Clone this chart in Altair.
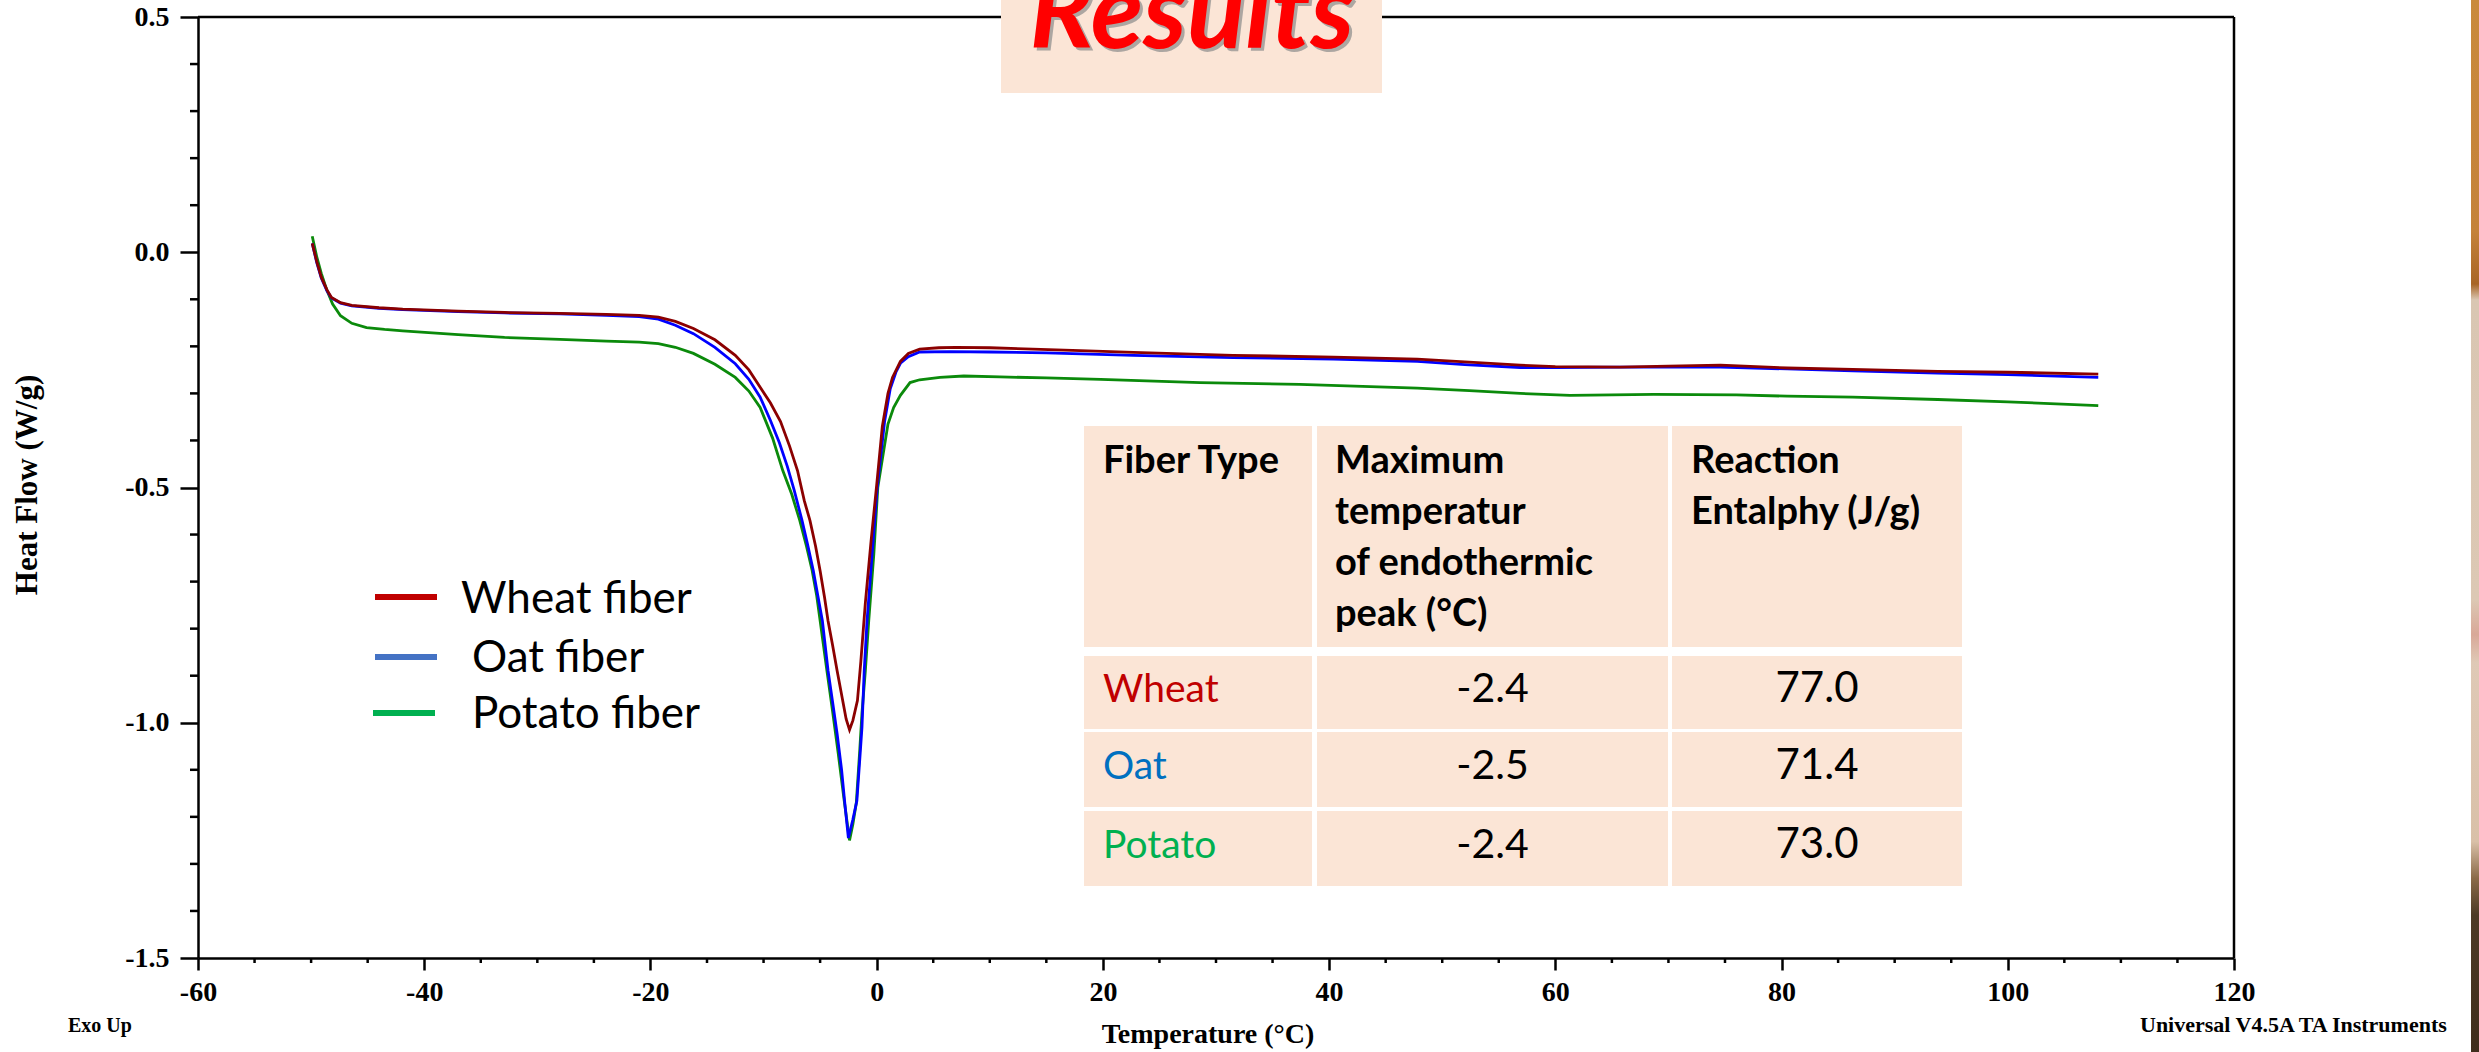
import altair as alt
import pandas as pd

# ---------------------------------------------------------------------------
# DSC heat-flow curves: (temperature in °C, heat flow in W/g)
# ---------------------------------------------------------------------------
WHEAT_CURVE = [
    (-49.9, 0.019), (-49.5, -0.020), (-49.1, -0.053), (-48.6, -0.080), (-48.2, -0.096),
    (-47.4, -0.107), (-46.4, -0.113), (-44.0, -0.118), (-41.9, -0.121), (-37.0, -0.125),
    (-32.9, -0.128), (-28.0, -0.130), (-23.9, -0.132), (-21.0, -0.134), (-19.3, -0.138),
    (-17.8, -0.147), (-16.2, -0.162), (-14.3, -0.186), (-12.5, -0.219), (-11.3, -0.250),
    (-10.3, -0.287), (-9.4, -0.320), (-8.5, -0.360), (-7.7, -0.412), (-7.0, -0.464),
    (-6.4, -0.528), (-5.9, -0.570), (-5.4, -0.625), (-5.0, -0.677), (-4.6, -0.735),
    (-4.3, -0.783), (-3.9, -0.835), (-3.5, -0.889), (-3.0, -0.953), (-2.7, -0.992),
    (-2.4, -1.015), (-2.1, -0.995), (-1.7, -0.953), (-1.4, -0.870), (-1.0, -0.745),
    (-0.5, -0.615), (0.0, -0.495), (0.5, -0.370), (1.0, -0.300), (1.4, -0.266),
    (2.1, -0.232), (2.8, -0.215), (3.8, -0.206), (5.5, -0.203), (7.0, -0.202),
    (10.0, -0.203), (13.8, -0.206), (18.0, -0.209), (22.7, -0.213), (31.5, -0.219),
    (40.4, -0.223), (47.8, -0.227), (52.0, -0.233), (56.9, -0.240), (60.0, -0.243),
    (65.7, -0.244), (70.0, -0.242), (74.6, -0.240), (80.5, -0.246), (86.3, -0.249),
    (93.8, -0.253), (100.0, -0.255), (108.0, -0.259),
]

OAT_CURVE = [
    (-49.9, 0.019), (-49.5, -0.022), (-49.1, -0.055), (-48.6, -0.082), (-48.2, -0.097),
    (-47.4, -0.108), (-46.4, -0.114), (-44.0, -0.119), (-41.9, -0.122), (-37.0, -0.126),
    (-32.9, -0.129), (-28.0, -0.131), (-23.9, -0.134), (-21.0, -0.137), (-19.3, -0.142),
    (-17.8, -0.155), (-16.2, -0.173), (-14.3, -0.202), (-12.5, -0.237), (-11.3, -0.270),
    (-10.3, -0.308), (-9.4, -0.357), (-8.6, -0.405), (-7.9, -0.455), (-7.3, -0.505),
    (-6.6, -0.570), (-6.1, -0.622), (-5.6, -0.677), (-5.2, -0.730), (-4.8, -0.783),
    (-4.3, -0.889), (-3.9, -0.955), (-3.5, -1.023), (-3.1, -1.100), (-2.8, -1.175),
    (-2.5, -1.245), (-2.1, -1.205), (-1.75, -1.166), (-1.5, -1.080), (-1.3, -1.010),
    (-1.1, -0.889), (-0.85, -0.783), (-0.4, -0.641), (0.05, -0.500), (0.7, -0.360),
    (1.2, -0.290), (1.7, -0.255), (2.1, -0.236), (2.8, -0.222), (3.8, -0.212),
    (6.5, -0.211), (10.0, -0.212), (15.0, -0.214), (22.7, -0.219), (31.5, -0.224),
    (40.4, -0.227), (47.8, -0.232), (52.0, -0.239), (56.9, -0.245), (60.0, -0.245),
    (65.7, -0.244), (74.6, -0.244), (80.5, -0.248), (86.3, -0.252), (93.8, -0.257),
    (100.0, -0.260), (108.0, -0.266),
]

POTATO_CURVE = [
    (-49.9, 0.034), (-49.5, -0.010), (-49.1, -0.045), (-48.6, -0.081), (-48.1, -0.110),
    (-47.4, -0.135), (-46.4, -0.151), (-45.1, -0.160), (-43.5, -0.164), (-41.9, -0.167),
    (-37.0, -0.175), (-32.9, -0.181), (-28.0, -0.185), (-23.9, -0.189), (-21.0, -0.191),
    (-19.3, -0.194), (-17.8, -0.202), (-16.2, -0.215), (-14.3, -0.238), (-12.5, -0.266),
    (-11.3, -0.295), (-10.3, -0.330), (-9.2, -0.395), (-8.3, -0.464), (-7.5, -0.515),
    (-6.8, -0.570), (-6.2, -0.625), (-5.7, -0.677), (-5.3, -0.730), (-5.0, -0.783),
    (-4.4, -0.889), (-3.9, -0.975), (-3.4, -1.065), (-2.9, -1.160), (-2.4, -1.250),
    (-2.1, -1.215), (-1.8, -1.170), (-1.5, -1.060), (-1.3, -0.980), (-1.0, -0.889),
    (-0.7, -0.783), (-0.25, -0.641), (0.1, -0.500), (1.0, -0.365), (1.5, -0.330),
    (2.1, -0.304), (2.95, -0.277), (3.8, -0.271), (5.6, -0.266), (7.7, -0.263),
    (10.9, -0.265), (15.0, -0.267), (19.8, -0.270), (28.6, -0.277), (37.4, -0.281),
    (47.8, -0.289), (52.4, -0.294), (56.9, -0.300), (61.3, -0.304), (68.7, -0.302),
    (76.0, -0.303), (80.5, -0.306), (86.3, -0.308), (93.8, -0.313), (100.0, -0.318),
    (108.0, -0.326),
]

SERIES_NAMES = ["Wheat fiber", "Oat fiber", "Potato fiber"]
CURVE_COLORS = ["#8b0000", "#0000ff", "#0b8a0b"]
LEGEND_COLORS = ["#c00000", "#4472c4", "#00b050"]

# Axis ticks
X_MAJOR = [-60, -40, -20, 0, 20, 40, 60, 80, 100, 120]
X_MINOR = [-55, -50, -45, -35, -30, -25, -15, -10, -5, 5, 10, 15, 25, 30, 35,
           45, 50, 55, 65, 70, 75, 85, 90, 95, 105, 110, 115]
Y_MAJOR = [0.5, 0.0, -0.5, -1.0, -1.5]
Y_MINOR = [0.4, 0.3, 0.2, 0.1, -0.1, -0.2, -0.3, -0.4, -0.6, -0.7, -0.8, -0.9,
           -1.1, -1.2, -1.3, -1.4]

# Summary table
TABLE_HEADERS = [
    ["Fiber Type"],
    ["Maximum", "temperatur", "of endothermic", "peak (°C)"],
    ["Reaction", "Entalphy (J/g)"],
]
FIBER_TYPES = ["Wheat", "Oat", "Potato"]
FIBER_COLORS = ["#c00000", "#0070c0", "#00b050"]
PEAK_TEMPERATURES = [-2.4, -2.5, -2.4]
REACTION_ENTHALPIES = [77.0, 71.4, 73.0]

# ---------------------------------------------------------------------------
# Layout (pixels, relative to the plot area)
# ---------------------------------------------------------------------------
W, H = 2036, 941
PEACH = "#fbe5d6"
SERIF = "Liberation Serif"
SANS = "Lato"

ONE = pd.DataFrame({"_": [0]})


def text_at(label, x, y, **style):
    return alt.Chart(ONE).mark_text(**style).encode(
        x=alt.value(x), y=alt.value(y), text=alt.value(label)
    )


def box(x1, x2, y1, y2, **style):
    return alt.Chart(ONE).mark_rect(**style).encode(
        x=alt.value(x1), x2=alt.value(x2), y=alt.value(y1), y2=alt.value(y2)
    )


def hline(x1, x2, y, **style):
    return alt.Chart(ONE).mark_rule(**style).encode(
        x=alt.value(x1), x2=alt.value(x2), y=alt.value(y)
    )


def vline(x, y1, y2, **style):
    return alt.Chart(ONE).mark_rule(**style).encode(
        x=alt.value(x), y=alt.value(y1), y2=alt.value(y2)
    )


x_scale = alt.Scale(domain=[-60, 120], nice=False, zero=False)
y_scale = alt.Scale(domain=[-1.5, 0.5], nice=False, zero=False)

axis_common = dict(
    grid=False, title=None, domainColor="black", domainWidth=2.5,
    tickColor="black", tickWidth=2.5, labelFont=SERIF, labelFontWeight="bold",
    labelFontSize=28, labelColor="black", labelOverlap=False,
)
x_axis = alt.Axis(
    values=X_MAJOR, tickSize=12, labelPadding=8, labelFlush=False,
    labelExpr="datum.value < 0 ? '-' + format(-datum.value, 'd') : format(datum.value, 'd')",
    **axis_common,
)
y_axis = alt.Axis(
    values=Y_MAJOR, tickSize=18, labelPadding=11,
    labelExpr="datum.value < 0 ? '-' + format(-datum.value, '.1f') : format(datum.value, '.1f')",
    **axis_common,
)


def curve_layer(points, color):
    df = pd.DataFrame(points, columns=["temperature", "heat_flow"])
    return alt.Chart(df).mark_line(color=color, strokeWidth=2.8).encode(
        x=alt.X("temperature:Q", scale=x_scale, axis=x_axis),
        y=alt.Y("heat_flow:Q", scale=y_scale, axis=y_axis),
    )


layers = []

# curves, drawn potato -> oat -> wheat
curves = [WHEAT_CURVE, OAT_CURVE, POTATO_CURVE]
for idx in (2, 1, 0):
    layers.append(curve_layer(curves[idx], CURVE_COLORS[idx]))

# minor ticks share the axes of the curves
layers.append(
    alt.Chart(pd.DataFrame({"temperature": X_MINOR}))
    .mark_rule(color="black", strokeWidth=2.5)
    .encode(
        x=alt.X("temperature:Q", scale=x_scale, axis=x_axis),
        y=alt.value(H), y2=alt.value(H + 5),
    )
)
layers.append(
    alt.Chart(pd.DataFrame({"heat_flow": Y_MINOR}))
    .mark_rule(color="black", strokeWidth=2.5)
    .encode(
        y=alt.Y("heat_flow:Q", scale=y_scale, axis=y_axis),
        x=alt.value(0), x2=alt.value(-8),
    )
)

# top and right frame
layers.append(hline(0, W, 0, color="black", strokeWidth=2.5))
layers.append(vline(W, 0, H, color="black", strokeWidth=2.5))

# slide title
layers.append(box(803, 1184, -17, 76, color=PEACH))
title_style = dict(font=SANS, fontSize=108, fontStyle="italic", fontWeight="bold",
                   align="center", baseline="alphabetic")
layers.append(text_at("Results", 997, 34, color="#8c8c8c", opacity=0.7, **title_style))
layers.append(text_at("Results", 994, 31, color="#ff0000", **title_style))

# legend
legend_lines_y = [580, 640, 696]
legend_line_x = [(177, 239), (177, 239), (175, 237)]
legend_text_pos = [(263, 596), (274, 655), (274, 711)]
for name, color, ly, (lx1, lx2), (tx, ty) in zip(
    SERIES_NAMES, LEGEND_COLORS, legend_lines_y, legend_line_x, legend_text_pos
):
    layers.append(hline(lx1, lx2, ly, color=color, strokeWidth=6))
    layers.append(text_at(name, tx, ty, font=SANS, fontSize=44, color="black",
                          align="left", baseline="alphabetic"))

# table
col_edges = [(886, 1114), (1119, 1470), (1474, 1764)]
row_edges = [(409, 630), (639, 712), (715, 790), (794, 869)]
for (y1, y2) in row_edges:
    for (x1, x2) in col_edges:
        layers.append(box(x1, x2, y1, y2, color=PEACH))

header_x = [905, 1137, 1493]
for lines, hx in zip(TABLE_HEADERS, header_x):
    for k, line in enumerate(lines):
        layers.append(text_at(line, hx, 456 + 51 * k, font=SANS, fontSize=38,
                              fontWeight="bold", color="black", align="left",
                              baseline="alphabetic"))

row_baselines = [685, 762, 841]
for fiber, color, peak, enth, by in zip(
    FIBER_TYPES, FIBER_COLORS, PEAK_TEMPERATURES, REACTION_ENTHALPIES, row_baselines
):
    layers.append(text_at(fiber, 905, by, font=SANS, fontSize=39, color=color,
                          align="left", baseline="alphabetic"))
    layers.append(text_at(f"{peak:.1f}", (col_edges[1][0] + col_edges[1][1]) / 2, by,
                          font=SANS, fontSize=41, color="black", align="center",
                          baseline="alphabetic"))
    layers.append(text_at(f"{enth:.1f}", (col_edges[2][0] + col_edges[2][1]) / 2, by,
                          font=SANS, fontSize=42, color="black", align="center",
                          baseline="alphabetic"))

# axis titles and instrument footers
layers.append(text_at("Heat Flow (W/g)", -170, 468, angle=270, font=SERIF, fontSize=31,
                      fontWeight="bold", color="black", align="center", baseline="middle"))
layers.append(text_at("Temperature (°C)", 1010, 1026, font=SERIF, fontSize=28,
                      fontWeight="bold", color="black", align="center", baseline="alphabetic"))
layers.append(text_at("Exo Up", -130, 1015, font=SERIF, fontSize=20, fontWeight="bold",
                      color="black", align="left", baseline="alphabetic"))
layers.append(text_at("Universal V4.5A TA Instruments", 1942, 1015, font=SERIF, fontSize=22,
                      fontWeight="bold", color="black", align="left", baseline="alphabetic"))

# slide edge strip
strip = alt.Gradient(
    gradient="linear", x1=0, x2=0, y1=0, y2=1,
    stops=[
        alt.GradientStop(color="#c98a3c", offset=0.0),
        alt.GradientStop(color="#c4823a", offset=0.22),
        alt.GradientStop(color="#a86526", offset=0.27),
        alt.GradientStop(color="#d9c6b2", offset=0.285),
        alt.GradientStop(color="#dcc8b4", offset=0.57),
        alt.GradientStop(color="#d8a898", offset=0.603),
        alt.GradientStop(color="#dfc9b6", offset=0.63),
        alt.GradientStop(color="#d9c0a8", offset=0.80),
        alt.GradientStop(color="#8a6a48", offset=0.835),
        alt.GradientStop(color="#4d3a25", offset=0.87),
        alt.GradientStop(color="#3f2d1c", offset=1.0),
    ],
)
layers.append(box(2273, 2281, -17, 1035, fill=strip))

chart = (
    alt.layer(*layers)
    .properties(
        width=W,
        height=H,
        autosize=alt.AutoSizeParams(type="none"),
        padding={"left": 198, "top": 17, "right": 245, "bottom": 94},
        background="white",
    )
    .configure_view(stroke=None)
)

chart.save("out.html", embed_options={"renderer": "svg", "actions": False})
